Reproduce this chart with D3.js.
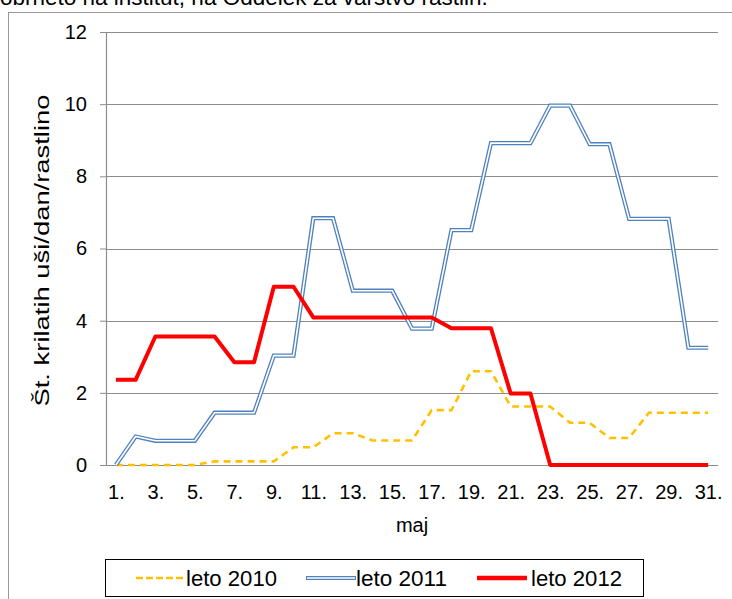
<!DOCTYPE html>
<html>
<head>
<meta charset="utf-8">
<script src="https://cdn.jsdelivr.net/npm/d3@7"></script>
<style>
  body { margin: 0; background: #fff; }
  svg { display: block; font-family: "Liberation Sans", Arial, sans-serif; }
</style>
</head>
<body>
<div id="graphic"></div>
<script>
var days = d3.range(1, 32).map(function(d) { return d + "."; });
var leto2010 = [0, 0, 0, 0, 0, 0.1, 0.1, 0.1, 0.1, 0.49, 0.49, 0.88, 0.88, 0.68, 0.68, 0.68,
  1.52, 1.52, 2.6, 2.6, 1.62, 1.62, 1.62, 1.17, 1.17, 0.75, 0.75, 1.45, 1.45, 1.45, 1.45];
var leto2011 = [0, 0.79, 0.67, 0.67, 0.67, 1.45, 1.45, 1.45, 3.03, 3.03, 6.84, 6.84, 4.83, 4.83, 4.83, 3.78,
  3.78, 6.51, 6.51, 8.92, 8.92, 8.92, 9.96, 9.96, 8.89, 8.89, 6.82, 6.82, 6.82, 3.25, 3.25];
var leto2012 = [2.36, 2.36, 3.56, 3.56, 3.56, 3.56, 2.85, 2.85, 4.94, 4.94, 4.09, 4.09, 4.09, 4.09, 4.09, 4.09,
  4.09, 3.79, 3.79, 3.79, 1.98, 1.98, 0, 0, 0, 0, 0, 0, 0, 0, 0];
var yTicks = [0, 2, 4, 6, 8, 10, 12];
var seriesNames = ["leto 2010", "leto 2011", "leto 2012"];

var width = 732, height = 599;
var margin = {top: 32, right: 14, bottom: 134, left: 106};

var svg = d3.select("#graphic").append("svg")
  .attr("width", width)
  .attr("height", height);

// title, mostly above the visible area
svg.append("text")
  .attr("x", 0).attr("y", 5)
  .attr("font-size", 22.5)
  .attr("fill", "#000")
  .text("obrneto na inštitut, na Oddelek za varstvo rastlin.");

// chart frame
svg.append("rect")
  .attr("x", 8.5).attr("y", 12.5)
  .attr("width", 740).attr("height", 600)
  .attr("fill", "#fff")
  .attr("stroke", "#999").attr("stroke-width", 1);

var x = d3.scalePoint().domain(days)
  .range([margin.left, width - margin.right]).padding(0.5);
var y = d3.scaleLinear().domain([0, 12])
  .range([height - margin.bottom, margin.top]);

var plotLeft = margin.left, plotRight = width - margin.right;

// gridlines
svg.append("g").selectAll("line").data(yTicks.filter(function(d) { return d > 0; }))
  .enter().append("line")
  .attr("x1", plotLeft).attr("x2", plotRight)
  .attr("y1", function(d) { return Math.round(y(d)) + 0.5; })
  .attr("y2", function(d) { return Math.round(y(d)) + 0.5; })
  .attr("stroke", "#8c8c8c").attr("stroke-width", 1.2);

// y axis
var yAxis = svg.append("g")
  .attr("transform", "translate(" + plotLeft + ",0)")
  .call(d3.axisLeft(y).tickValues(yTicks).tickSize(6).tickPadding(13));
yAxis.select(".domain").attr("stroke", "#8c8c8c").attr("stroke-width", 1.2);
yAxis.selectAll(".tick line").attr("stroke", "#8c8c8c");
yAxis.selectAll(".tick text").attr("font-size", 20).attr("fill", "#000")
  .attr("font-family", "Liberation Sans, Arial, sans-serif");

// x axis
var xAxis = svg.append("g")
  .attr("transform", "translate(0," + (Math.round(y(0)) + 0.5) + ")")
  .call(d3.axisBottom(x).tickValues(days.filter(function(d, i) { return i % 2 === 0; }))
    .tickSize(0).tickPadding(19));
xAxis.select(".domain").attr("stroke", "#8c8c8c").attr("stroke-width", 1.2)
  .attr("d", "M" + plotLeft + ",0H" + plotRight);
xAxis.selectAll(".tick text").attr("font-size", 20).attr("fill", "#000")
  .attr("font-family", "Liberation Sans, Arial, sans-serif");

// axis titles
svg.append("text")
  .attr("x", x("16.")).attr("y", 532)
  .attr("text-anchor", "middle").attr("font-size", 20)
  .text("maj");
svg.append("text")
  .attr("transform", "translate(49," + ((y(0) + y(12)) / 2 + 2) + ") rotate(-90)")
  .attr("text-anchor", "middle").attr("font-size", 21)
  .attr("textLength", 312).attr("lengthAdjust", "spacingAndGlyphs")
  .text("Št. krilatih uši/dan/rastlino");

var line = d3.line()
  .x(function(d, i) { return x(days[i]); })
  .y(function(d) { return y(d); });

// leto 2010 - dashed orange
svg.append("path").datum(leto2010)
  .attr("d", line).attr("fill", "none")
  .attr("stroke", "#FFC000").attr("stroke-width", 2.6)
  .attr("stroke-dasharray", "7,5");

// leto 2011 - double blue line
svg.append("path").datum(leto2011)
  .attr("d", line).attr("fill", "none")
  .attr("stroke", "#4F81BD").attr("stroke-width", 4.2)
  .attr("stroke-linejoin", "miter");
svg.append("path").datum(leto2011)
  .attr("d", line).attr("fill", "none")
  .attr("stroke", "#fff").attr("stroke-width", 1.6)
  .attr("stroke-linejoin", "miter");

// leto 2012 - thick red
svg.append("path").datum(leto2012)
  .attr("d", line).attr("fill", "none")
  .attr("stroke", "#FF0000").attr("stroke-width", 4)
  .attr("stroke-linejoin", "round");

// legend
var legend = svg.append("g");
legend.append("rect")
  .attr("x", 105.5).attr("y", 559.5)
  .attr("width", 538).attr("height", 37)
  .attr("fill", "#fff").attr("stroke", "#000").attr("stroke-width", 1);

var legendX = [136, 306, 477];
var items = legend.selectAll("g.item").data(seriesNames).enter()
  .append("g").attr("class", "item")
  .attr("transform", function(d, i) { return "translate(" + legendX[i] + ",578)"; });

items.each(function(d, i) {
  var g = d3.select(this);
  if (i === 0) {
    g.append("line").attr("x1", 0).attr("x2", 49)
      .attr("stroke", "#FFC000").attr("stroke-width", 2.6).attr("stroke-dasharray", "7,3");
  } else if (i === 1) {
    g.append("line").attr("x1", 0).attr("x2", 50)
      .attr("stroke", "#4F81BD").attr("stroke-width", 4.2);
    g.append("line").attr("x1", 1).attr("x2", 49)
      .attr("stroke", "#fff").attr("stroke-width", 1.6);
  } else {
    g.append("line").attr("x1", 0).attr("x2", 50)
      .attr("stroke", "#FF0000").attr("stroke-width", 4.5);
  }
  g.append("text").attr("x", i === 2 ? 54 : 50).attr("y", 8)
    .attr("font-size", 22).attr("textLength", 91).attr("lengthAdjust", "spacingAndGlyphs")
    .text(d);
});
</script>
</body>
</html>
